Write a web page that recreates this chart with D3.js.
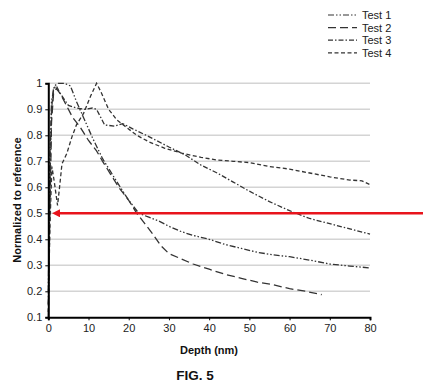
<!DOCTYPE html>
<html>
<head>
<meta charset="utf-8">
<script src="https://cdn.jsdelivr.net/npm/d3@7"></script>
<style>
  body { margin: 0; background: #fff; }
  text { font-family: "Liberation Sans", Arial, sans-serif; }
</style>
</head>
<body>
<div id="chart"></div>
<script>
// values: [depth (nm), normalized value]
const test1 = [[0,0.2],[0.4,0.7],[0.8,0.93],[1.5,0.99],[2.5,1.0],[4,1.0],[5.5,0.99],[7,0.93],[9,0.86],[11,0.79],[13.5,0.71],[15.5,0.66],[17.5,0.61],[20,0.55],[22.5,0.5],[25,0.485],[27.5,0.47],[30,0.45],[33,0.43],[36,0.415],[40,0.4],[44,0.38],[48,0.365],[52,0.35],[56,0.34],[60,0.333],[65,0.32],[70,0.305],[75,0.297],[80,0.29]];
const test2 = [[0,0.1],[0.4,0.5],[0.8,0.85],[1.3,0.96],[2,0.98],[3,0.96],[4,0.93],[6,0.87],[8,0.83],[10,0.78],[12,0.74],[13.5,0.7],[15.5,0.65],[17.5,0.6],[20,0.55],[22,0.5],[24,0.46],[26,0.42],[28,0.375],[30,0.345],[33,0.325],[36,0.305],[40,0.285],[44,0.265],[48,0.25],[52,0.235],[56,0.225],[60,0.21],[64,0.2],[68,0.187]];
const test3 = [[0,0.15],[0.4,0.6],[0.8,0.9],[1.3,0.98],[2,0.99],[3,0.96],[5,0.915],[7,0.905],[9,0.9],[11,0.905],[12,0.9],[13,0.87],[14,0.84],[16.5,0.835],[18.5,0.845],[21,0.825],[25,0.795],[30,0.755],[34,0.725],[38,0.685],[42,0.655],[46,0.62],[50,0.585],[55,0.545],[60,0.51],[65,0.48],[70,0.46],[75,0.44],[80,0.42]];
const test4 = [[0,0.12],[0.4,0.45],[0.9,0.68],[1.5,0.62],[2.3,0.53],[2.8,0.6],[3.4,0.69],[4.6,0.73],[5.9,0.795],[7,0.84],[8.8,0.885],[10.5,0.95],[12,1.0],[13,0.97],[15,0.9],[17,0.86],[19.5,0.83],[22,0.8],[25,0.775],[29,0.75],[33.5,0.73],[38,0.715],[42,0.705],[46,0.7],[50,0.695],[55,0.68],[60,0.67],[65,0.655],[70,0.64],[75,0.628],[78,0.625],[80,0.61]];

const seriesNames = ["Test 1", "Test 2", "Test 3", "Test 4"];
const xTicks = [0, 10, 20, 30, 40, 50, 60, 70, 80];
const yTicks = [0.1, 0.2, 0.3, 0.4, 0.5, 0.6, 0.7, 0.8, 0.9, 1];
const markerValue = 0.5;

const W = 427, H = 384;
const svg = d3.select("#chart").append("svg").attr("width", W).attr("height", H);

const x = d3.scaleLinear().domain([0, 80]).range([48.3, 370]);
const y = d3.scaleLinear().domain([0.1, 1]).range([317.3, 83.3]);

// grid lines
svg.append("g")
  .selectAll("line")
  .data(yTicks.slice(1))
  .enter().append("line")
  .attr("x1", x(0)).attr("x2", x(80))
  .attr("y1", d => y(d)).attr("y2", d => y(d))
  .attr("stroke", "#d4d4d4")
  .attr("stroke-width", 1.5);

// series
const styles = [
  { dash: "6,2,1.5,2,1.5,2" },
  { dash: "8,4" },
  { dash: "5,2,1.5,2" },
  { dash: "4,2.5" }
];
const data = [test1, test2, test3, test4];
const line = d3.line().x(d => x(d[0])).y(d => y(d[1]));

svg.append("g")
  .selectAll("path")
  .data(data)
  .enter().append("path")
  .attr("d", line)
  .attr("fill", "none")
  .attr("stroke", "#333")
  .attr("stroke-width", 1.3)
  .attr("stroke-dasharray", (d, i) => styles[i].dash);

// axes
const xAxis = svg.append("g")
  .attr("transform", "translate(0," + y(0.1) + ")")
  .call(d3.axisBottom(x).tickValues(xTicks).tickSize(3).tickPadding(4));
const yAxis = svg.append("g")
  .attr("transform", "translate(" + x(0) + ",0)")
  .call(d3.axisLeft(y).tickValues(yTicks).tickSize(3).tickPadding(3)
    .tickFormat(d => d === 1 ? "1" : d.toFixed(1)));

[xAxis, yAxis].forEach(a => {
  a.select(".domain").attr("stroke", "#000").attr("stroke-width", 2);
  a.selectAll(".tick line").attr("stroke", "#000");
  a.selectAll(".tick text")
    .attr("font-size", "11px")
    .attr("fill", "#222")
    .style("font-family", "'Liberation Sans', Arial, sans-serif");
});

// red arrow at 0.5
svg.append("defs").append("marker")
  .attr("id", "arrow")
  .attr("viewBox", "0 0 10 10")
  .attr("refX", 1).attr("refY", 5)
  .attr("markerWidth", 3.2).attr("markerHeight", 3.2)
  .attr("orient", "auto-start-reverse")
  .append("path")
  .attr("d", "M0,0 L10,5 L0,10 z")
  .attr("fill", "#e8141c");

svg.append("line")
  .attr("x1", W - 4).attr("x2", x(2.8))
  .attr("y1", y(markerValue)).attr("y2", y(markerValue))
  .attr("stroke", "#e8141c")
  .attr("stroke-width", 2.6)
  .attr("marker-end", "url(#arrow)");

// legend
const legend = svg.append("g");
seriesNames.forEach((name, i) => {
  const ly = 15 + i * 12.6;
  legend.append("line")
    .attr("x1", 328).attr("x2", 357)
    .attr("y1", ly).attr("y2", ly)
    .attr("stroke", "#333")
    .attr("stroke-width", 1.2)
    .attr("stroke-dasharray", styles[i].dash);
  legend.append("text")
    .attr("x", 362).attr("y", ly + 4)
    .attr("font-size", "11px")
    .attr("fill", "#222")
    .text(name);
});

// titles
svg.append("text")
  .attr("transform", "translate(21,200) rotate(-90)")
  .attr("text-anchor", "middle")
  .attr("font-size", "11px")
  .attr("font-weight", "bold")
  .attr("fill", "#111")
  .text("Normalized to reference");

svg.append("text")
  .attr("x", 209).attr("y", 354)
  .attr("text-anchor", "middle")
  .attr("font-size", "11px")
  .attr("font-weight", "bold")
  .attr("fill", "#111")
  .text("Depth (nm)");

svg.append("text")
  .attr("x", 195).attr("y", 380)
  .attr("text-anchor", "middle")
  .attr("font-size", "13.5px")
  .attr("font-weight", "bold")
  .attr("fill", "#111")
  .text("FIG. 5");
</script>
</body>
</html>
